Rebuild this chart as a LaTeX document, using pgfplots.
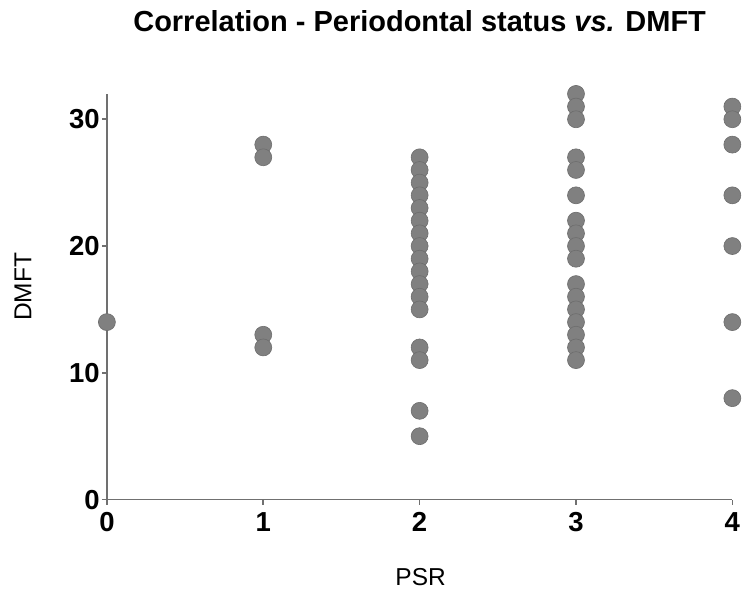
\documentclass[border=0pt]{standalone}
\usepackage{pgfplots}
\pgfplotsset{compat=1.18}
\usepackage{fontspec}
\setmainfont{Liberation Sans}
\definecolor{dotgray}{RGB}{128,128,128}
\definecolor{axgray}{RGB}{112,112,112}
\begin{document}
\begin{tikzpicture}
  \begin{axis}[
    name=ax,
    at={(0,0)}, anchor=south west,
    width=626pt, height=406pt, scale only axis,
    xmin=0, xmax=4, ymin=0, ymax=32,
    axis lines*=left,
    axis line style={axgray, line width=1.6pt, -},
    clip=false,
    xtick={0,1,2,3,4},
    ytick={0,10,20,30},
    tick align=outside,
    major tick length=5pt,
    tick style={axgray, line width=1.6pt},
    /pgf/number format/assume math mode=true,
    ticklabel style={font=\fontsize{27.5}{30}\selectfont\bfseries, inner sep=2pt},
    xticklabel style={yshift=-6pt},
  ]
  \addplot[only marks, mark=*, mark size=8.5pt,
    mark options={fill=dotgray, draw=dotgray!85!black, line width=0.6pt}]
  coordinates {
    (0,14)
    (1,28) (1,27) (1,13) (1,12)
    (2,27) (2,26) (2,25) (2,24) (2,23) (2,22) (2,21) (2,20) (2,19)
    (2,18) (2,17) (2,16) (2,15) (2,12) (2,11) (2,7) (2,5)
    (3,32) (3,31) (3,30) (3,27) (3,26) (3,24) (3,22) (3,21) (3,20)
    (3,19) (3,17) (3,16) (3,15) (3,14) (3,13) (3,12) (3,11)
    (4,31) (4,30) (4,28) (4,24) (4,20) (4,14) (4,8)
  };
  \end{axis}
  % title and axis labels, placed in picture points (1pt = 1px)
  \node[anchor=base, font=\fontsize{29}{32}\selectfont\bfseries]
    at (313pt,468pt) {Correlation - Periodontal status \textit{vs.} DMFT};
  \node[font=\fontsize{24.5}{28}\selectfont] at (314pt,-78pt) {PSR};
  \node[font=\fontsize{24.5}{28}\selectfont, rotate=90] at (-84pt,213pt) {DMFT};
  % frame of the whole picture
  \path (-107pt,500pt) (635pt,-91pt);
\end{tikzpicture}
\end{document}
